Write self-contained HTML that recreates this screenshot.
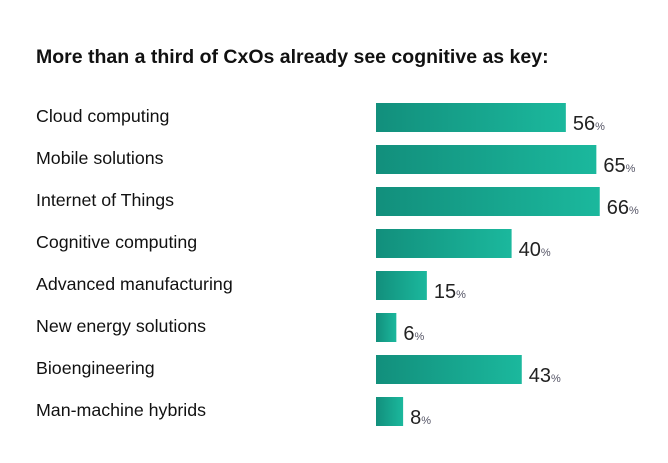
<!DOCTYPE html>
<html><head><meta charset="utf-8"><style>
body{margin:0;background:#fff;width:668px;height:458px;overflow:hidden;font-family:"Liberation Sans",sans-serif}
</style></head><body>
<svg width="668" height="458">
<defs><linearGradient id="g" x1="0" x2="1"><stop offset="0" stop-color="#128f7c"/><stop offset="1" stop-color="#1bb89d"/></linearGradient></defs>
<text x="36" y="63" font-size="19.5" font-weight="bold" fill="#111">More than a third of CxOs already see cognitive as key:</text>
<g id="bars"></g>
</svg>
<script>
const categories=["Cloud computing","Mobile solutions","Internet of Things","Cognitive computing","Advanced manufacturing","New energy solutions","Bioengineering","Man-machine hybrids"];
const values=[56,65,66,40,15,6,43,8];
const x0=376,pxPer=3.39,top0=103,step=42,bh=29;
function xs(v){return v*pxPer;}
function ys(i){return top0+i*step;}
const g=document.getElementById('bars');
const ns='http://www.w3.org/2000/svg';
categories.forEach((c,i)=>{
  const y=ys(i);
  const t=document.createElementNS(ns,'text');
  
  
  t.setAttribute('x',36);t.setAttribute('y',y+19);t.setAttribute('font-size','17.8');t.setAttribute('fill','#111');
  t.textContent=c;g.appendChild(t);
  const r=document.createElementNS(ns,'rect');
  
  
  r.setAttribute('x',x0);r.setAttribute('y',y);r.setAttribute('width',xs(values[i]));r.setAttribute('height',bh);r.setAttribute('fill','url(#g)');
  g.appendChild(r);
  const v=document.createElementNS(ns,'text');
  
  
  v.setAttribute('x',x0+xs(values[i])+7);v.setAttribute('y',y+27);v.setAttribute('font-size','20');v.setAttribute('fill','#222');
  v.textContent=values[i];
  const p=document.createElementNS(ns,'tspan');
  p.setAttribute('font-size','11');p.setAttribute('fill','#556');p.textContent='%';
  v.appendChild(p);g.appendChild(v);
});
</script>
</body></html>
